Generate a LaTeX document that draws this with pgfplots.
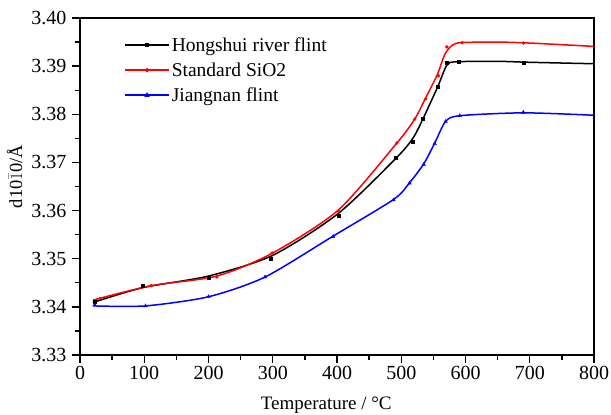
\documentclass[border=0pt]{standalone}
\usepackage{fontspec}
\setmainfont{Liberation Serif}
\usepackage{pgfplots}
\pgfplotsset{compat=1.18}
\begin{document}
\begin{tikzpicture}
\begin{axis}[
  scale only axis,
  width=514pt, height=337pt,
  xmin=0, xmax=800, ymin=3.33, ymax=3.40,
  xtick={0,100,...,800}, minor x tick num=1,
  ytick={3.33,3.34,...,3.405}, minor y tick num=1,
  tick align=outside,
  xtick pos=bottom, ytick pos=left,
  major tick length=8pt, minor tick length=5pt,
  xtick style={black, line width=1.3pt},
  ytick style={black, line width=1.3pt},
  minor tick style={black, line width=1.3pt},
  axis line style={line width=1.3pt},
  /pgf/number format/assume math mode=true,
  tick label style={font=\fontsize{20}{22}\selectfont},
  yticklabel style={xshift=-2pt, /pgf/number format/.cd, fixed, fixed zerofill, precision=2},
  xticklabel style={/pgf/number format/.cd, fixed},
  xlabel={Temperature / °C},
  ylabel={d10$\bar{1}$0/Å},
  xlabel style={font=\fontsize{19}{21}\selectfont, at={(axis description cs:0.479,-0.148)}, anchor=center},
  ylabel style={font=\fontsize{18.5}{21}\selectfont, at={(axis description cs:-0.127,0.53)}, anchor=center},
  legend style={at={(0.08,0.955)}, anchor=north west, draw=none, fill=none,
    nodes={font=\fontsize{19.5}{21}\selectfont}, row sep=6pt},
  legend cell align=left,
  legend image code/.code={\draw[#1,mark repeat=2,mark phase=2] plot coordinates {(0pt,0pt) (22pt,0pt) (44pt,0pt)};},
]
\addlegendimage{black, line width=1.5pt, mark=square*, mark size=1.3pt}
\addlegendentry{Hongshui river flint}
\addlegendimage{red, line width=1.5pt, mark=*, mark size=1.3pt}
\addlegendentry{Standard SiO2}
\addlegendimage{blue, line width=1.5pt, mark=triangle*, mark size=1.6pt}
\addlegendentry{Jiangnan flint}

% fitted curves
\addplot[black, line width=1.5pt, smooth, tension=0.45, forget plot] coordinates {
(20,3.3409) (98,3.3440) (200,3.3464) (300,3.3507) (402,3.3594) (492,3.3709) (518,3.3750) (534,3.3791) (557,3.3858) (571,3.3902) (585,3.3909) (650,3.3910) (700,3.3908) (800,3.3905)};
\addplot[red, line width=1.5pt, smooth, tension=0.45, forget plot] coordinates {
(20,3.3414) (111,3.3444) (213,3.3464) (300,3.3512) (402,3.3601) (493,3.3740) (521,3.3790) (538,3.3834) (556,3.3882) (568,3.3925) (580,3.3944) (595,3.3949) (650,3.3950) (700,3.3948) (800,3.3941)};
\addplot[blue, line width=1.5pt, smooth, tension=0.45, forget plot] coordinates {
(20,3.3402) (102,3.3402) (200,3.3421) (288,3.3462) (394,3.3547) (488,3.3623) (513,3.3658) (535,3.3697) (552,3.3740) (569,3.3785) (591,3.3797) (690,3.3803) (800,3.3798)};

% data points
\addplot[only marks, black, mark=square*, mark size=1.5pt, forget plot] coordinates {
(23,3.3410) (98,3.3443) (200,3.3460) (297,3.3500) (402,3.3590) (492,3.3709) (518,3.3744) (534,3.3791) (557,3.3858) (571,3.3907) (590,3.3909) (690,3.3907)};
\addplot[only marks, red, mark=*, mark size=1.5pt, forget plot] coordinates {
(31,3.3417) (111,3.3444) (213,3.3462) (299,3.3512) (402,3.3599) (493,3.3740) (521,3.3790) (538,3.3832) (558,3.3880) (571,3.3940) (595,3.3949) (690,3.3948)};
\addplot[only marks, blue, mark=triangle*, mark size=2pt, forget plot] coordinates {
(23,3.3404) (102,3.3402) (200,3.3421) (288,3.3462) (394,3.3546) (488,3.3622) (513,3.3657) (535,3.3696) (552,3.3739) (569,3.3785) (591,3.3797) (690,3.3804)};
\end{axis}
\pgfresetboundingbox
\path[use as bounding box] (current axis.south west) ++(-80pt,-60pt) rectangle ([shift={(17pt,18pt)}]current axis.north east);
\end{tikzpicture}
\end{document}
